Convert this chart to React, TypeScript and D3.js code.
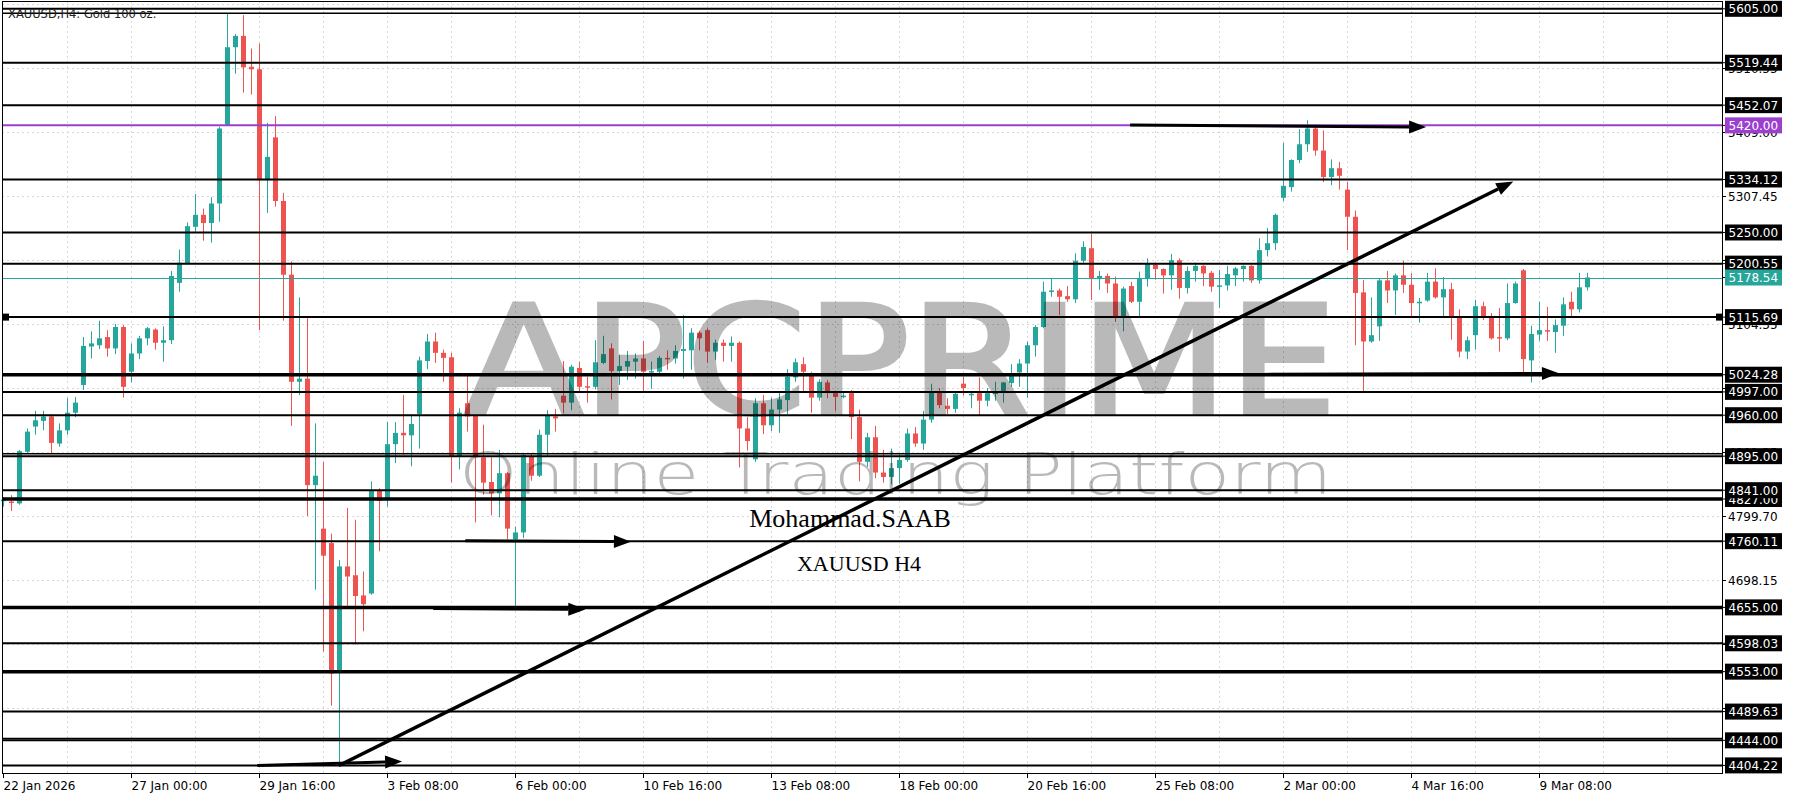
import React, { useEffect, useRef } from 'react';
import * as d3 from 'd3';

// ---------------- DATA ----------------
const opens = [
  4824, 4823, 4820, 4902, 4942, 4951, 4958, 4915, 4936, 4964,
  5008, 5069, 5071, 5084, 5066, 5100, 5029, 5058, 5082, 5096,
  5075, 5079, 5170, 5201, 5259, 5278, 5265, 5296, 5420, 5544,
  5562, 5513, 5509, 5333, 5401, 5300, 5183, 5013, 5018, 4849,
  4780, 4757, 4552, 4720, 4706, 4674, 4677, 4840, 4828, 4914,
  4932, 4928, 4962, 5046, 5077, 5059, 5052, 4895, 4979, 4959,
  4893, 4854, 4836, 4868, 4763, 4774, 4895, 4864, 4929, 4958,
  4991, 4980, 5035, 5006, 5005, 5043, 5066, 5030, 5037, 5045,
  5050, 5028, 5029, 5051, 5050, 5062, 5063, 5091, 5095, 5061,
  5075, 5070, 5075, 4939, 4890, 4979, 4944, 4969, 4984, 5020,
  5041, 5024, 4988, 5012, 4995, 4990, 4995, 4957, 4886, 4925,
  4869, 4862, 4876, 4889, 4931, 4915, 4953, 4998, 4975, 4970,
  5010, 4992, 4995, 4983, 4994, 4996, 5011, 5028, 5042, 5071,
  5100, 5156, 5158, 5149, 5144, 5205, 5225, 5176, 5181, 5169,
  5116, 5165, 5140, 5177, 5199, 5192, 5182, 5206, 5162, 5189,
  5197, 5186, 5164, 5166, 5182, 5192, 5197, 5174, 5222, 5233,
  5305, 5322, 5365, 5390, 5415, 5380, 5338, 5352, 5318, 5275,
  5155, 5077, 5101, 5174, 5158, 5182, 5167, 5138, 5142, 5172,
  5147, 5160, 5116, 5061, 5087, 5133, 5115, 5084, 5082, 5138,
  5190, 5047, 5088, 5095, 5092, 5102, 5140, 5128, 5163,
];
const highs = [
  4830, 4833, 4905, 4939, 4967, 4967, 4962, 4947, 4987, 4989,
  5084, 5093, 5110, 5095, 5105, 5103, 5074, 5086, 5100, 5098,
  5101, 5189, 5223, 5266, 5311, 5288, 5306, 5418, 5597, 5565,
  5595, 5542, 5550, 5424, 5435, 5313, 5204, 5147, 5114, 4947,
  4886, 4772, 4730, 4813, 4794, 4712, 4855, 4844, 4949, 4949,
  4992, 4962, 5053, 5089, 5091, 5064, 5059, 4971, 5024, 4960,
  4945, 4893, 4905, 4870, 4783, 4900, 4900, 4937, 4968, 4970,
  5046, 5040, 5045, 5021, 5079, 5086, 5074, 5056, 5062, 5058,
  5078, 5045, 5054, 5063, 5071, 5119, 5098, 5094, 5098, 5080,
  5080, 5085, 5077, 4957, 4987, 4992, 4988, 4995, 5033, 5050,
  5052, 5029, 5017, 5016, 4999, 4995, 5000, 4969, 4932, 4943,
  4905, 4907, 4898, 4939, 4941, 4967, 5010, 5003, 4987, 4996,
  5021, 4997, 5020, 5003, 5013, 5013, 5041, 5049, 5077, 5103,
  5172, 5177, 5161, 5165, 5217, 5236, 5248, 5189, 5185, 5180,
  5164, 5172, 5188, 5209, 5201, 5193, 5216, 5209, 5196, 5202,
  5198, 5189, 5191, 5197, 5195, 5198, 5198, 5241, 5257, 5280,
  5392, 5366, 5414, 5428, 5422, 5412, 5366, 5362, 5330, 5285,
  5175, 5147, 5177, 5189, 5185, 5205, 5185, 5146, 5186, 5193,
  5179, 5170, 5128, 5085, 5143, 5140, 5122, 5130, 5169, 5172,
  5192, 5102, 5140, 5132, 5112, 5147, 5156, 5186, 5186,
];
const lows = [
  4815, 4808, 4818, 4900, 4929, 4936, 4899, 4910, 4929, 4957,
  5000, 5050, 5065, 5053, 5057, 4988, 5012, 5049, 5071, 5064,
  5045, 5073, 5156, 5200, 5251, 5237, 5234, 5267, 5419, 5502,
  5472, 5469, 5095, 5281, 5291, 5110, 4943, 4992, 4800, 4683,
  4585, 4499, 4404, 4657, 4596, 4617, 4675, 4744, 4815, 4884,
  4897, 4879, 4907, 5033, 5043, 5013, 4853, 4874, 4934, 4790,
  4834, 4801, 4798, 4763, 4653, 4765, 4856, 4862, 4894, 4934,
  4963, 4968, 4997, 4980, 5001, 5041, 4985, 5008, 5016, 5018,
  4997, 5002, 5026, 5032, 5042, 5018, 5032, 5063, 5043, 5048,
  5045, 5045, 4877, 4904, 4886, 4930, 4935, 4932, 4962, 5013,
  4996, 4964, 4983, 4987, 4967, 4987, 4922, 4855, 4878, 4860,
  4853, 4850, 4851, 4886, 4910, 4905, 4948, 4971, 4962, 4964,
  4991, 4971, 4960, 4974, 4983, 4980, 5005, 5005, 4988, 5053,
  5098, 5148, 5119, 5140, 5138, 5202, 5143, 5159, 5154, 5108,
  5093, 5138, 5117, 5164, 5175, 5153, 5159, 5145, 5153, 5172,
  5165, 5156, 5130, 5158, 5165, 5172, 5170, 5169, 5212, 5222,
  5300, 5315, 5360, 5378, 5372, 5330, 5325, 5318, 5222, 5071,
  4997, 5075, 5078, 5138, 5119, 5154, 5117, 5107, 5140, 5145,
  5117, 5080, 5052, 5049, 5064, 5111, 5080, 5061, 5079, 5137,
  5027, 5012, 5078, 5078, 5059, 5086, 5115, 5123, 5158,
];
const closes = [
  4826, 4821, 4903, 4934, 4952, 4958, 4916, 4936, 4964, 4980,
  5070, 5074, 5082, 5066, 5100, 5005, 5058, 5082, 5098, 5075,
  5079, 5181, 5202, 5260, 5278, 5265, 5296, 5415, 5544, 5562,
  5512, 5509, 5333, 5370, 5300, 5183, 5013, 5018, 4849, 4864,
  4737, 4550, 4720, 4704, 4673, 4660, 4840, 4824, 4914, 4932,
  4928, 4946, 5047, 5077, 5059, 5051, 4895, 4964, 4958, 4893,
  4853, 4836, 4868, 4780, 4774, 4897, 4864, 4929, 4959, 4955,
  4980, 5037, 5005, 5005, 5044, 5057, 5030, 5038, 5046, 5050,
  5029, 5030, 5051, 5050, 5062, 5065, 5091, 5082, 5061, 5075,
  5070, 5075, 4939, 4919, 4979, 4944, 4969, 4985, 5021, 5044,
  5029, 4988, 5013, 4996, 4989, 4991, 4957, 4886, 4925, 4869,
  4862, 4876, 4889, 4931, 4915, 4953, 4998, 4976, 4970, 4994,
  5003, 4994, 4983, 4995, 4996, 5012, 5027, 5042, 5071, 5100,
  5156, 5158, 5148, 5144, 5205, 5227, 5176, 5181, 5169, 5116,
  5161, 5140, 5177, 5200, 5192, 5182, 5206, 5162, 5189, 5197,
  5185, 5164, 5166, 5184, 5193, 5197, 5174, 5222, 5233, 5278,
  5324, 5365, 5390, 5415, 5380, 5338, 5352, 5340, 5275, 5154,
  5077, 5087, 5174, 5158, 5182, 5167, 5138, 5140, 5172, 5147,
  5160, 5116, 5061, 5079, 5133, 5115, 5082, 5083, 5138, 5169,
  5049, 5089, 5095, 5094, 5103, 5136, 5128, 5163, 5178.54,
];

const timeLabels = [
  '22 Jan 2026', '27 Jan 00:00', '29 Jan 16:00', '3 Feb 08:00', '6 Feb 00:00',
  '10 Feb 16:00', '13 Feb 08:00', '18 Feb 00:00', '20 Feb 16:00', '25 Feb 08:00',
  '2 Mar 00:00', '4 Mar 16:00', '9 Mar 08:00',
];
const barsPerLabel = 16;

// horizontal drawn levels (black lines)
const levelPrices = [
  5605, 5598, 5519.44, 5452.07, 5334.12, 5250, 5200.55, 5115.69, 5024.28,
  4997, 4960, 4899, 4895, 4841, 4827, 4760.11, 4655, 4598.03, 4553,
  4489.63, 4447, 4444, 4404.22,
];
const thickLevels = [5024.28, 4827, 4655, 4553];
const thinLevels = [5598, 4899, 4447];
const purpleLevel = 5420;
const currentPrice = 5178.54;
const markedLevel = 5115.69;

// boxed price labels on axis (ascending, so higher ones are painted on top)
const boxedLabels = [
  4404.22, 4444.0, 4489.63, 4553.0, 4598.03, 4655.0, 4760.11, 4827.0, 4841.0,
  4895.0, 4960.0, 4997.0, 5024.28, 5115.69, 5200.55, 5250.0, 5334.12,
  5452.07, 5519.44, 5605.0,
];
// price-grid labels
const gridPrices = [
  5510.55, 5409.0, 5307.45, 5205.9, 5104.35, 5002.8, 4901.25,
  4799.7, 4698.15, 4596.6, 4495.05,
];
const gridLinePrices = [5612.1, ...gridPrices];

// arrows: [startBar, startPrice, endBar, endPrice]
const arrows: [number, number, number, number][] = [
  [140.9, 5420.5, 177.9, 5417.3],
  [42.0, 4404.0, 188.8, 5331.0],
  [31.8, 4404.0, 49.9, 4410.5],
  [57.8, 4760.9, 78.5, 4759.3],
  [53.8, 4653.3, 72.8, 4651.7],
  [157.5, 5024.8, 194.5, 5026.4],
];

const COL_UP = '#26a69a';
const COL_DN = '#ef5350';
const FONT = 'DejaVu Sans, Verdana, sans-serif';

export default function App() {
  const ref = useRef<SVGSVGElement>(null);

  useEffect(() => {
    const svg = d3.select(ref.current);
    svg.selectAll('*').remove();

    const left = 2, right = 1722, top = 1, bottom = 773;
    const x = d3.scaleLinear().domain([0, 200]).range([2.9, 2.9 + 8 * 200]);
    const y = d3.scaleLinear().domain([4404.22, 5605]).range([765.4, 8.8]);
    const px = (i: number) => Math.round(x(i)) + 0.5;

    svg.append('rect').attr('width', 1800).attr('height', 800).attr('fill', '#fff');

    const plot = svg.append('g');

    // vertical dotted grid
    const vg = d3.range(8, 215, 8).filter((i) => x(i) < right - 2);
    plot.selectAll('line.vg').data(vg).enter().append('line')
      .attr('x1', (d) => px(d)).attr('x2', (d) => px(d))
      .attr('y1', top).attr('y2', bottom)
      .attr('stroke', '#d8d8d8').attr('stroke-width', 1).attr('stroke-dasharray', '2,3');
    // horizontal dotted grid
    plot.selectAll('line.hg').data(gridLinePrices).enter().append('line')
      .attr('x1', left).attr('x2', right)
      .attr('y1', (d) => Math.round(y(d)) + 0.5).attr('y2', (d) => Math.round(y(d)) + 0.5)
      .attr('stroke', '#d8d8d8').attr('stroke-width', 1).attr('stroke-dasharray', '2,3');

    // candles
    const idx = d3.range(opens.length);
    const cg = plot.append('g');
    cg.selectAll('line.w').data(idx).enter().append('line')
      .attr('x1', (i) => px(i)).attr('x2', (i) => px(i))
      .attr('y1', (i) => y(highs[i])).attr('y2', (i) => y(lows[i]))
      .attr('stroke', (i) => (closes[i] >= opens[i] ? COL_UP : COL_DN))
      .attr('stroke-width', 1);
    cg.selectAll('rect.b').data(idx).enter().append('rect')
      .attr('x', (i) => px(i) - 2.5)
      .attr('width', 5)
      .attr('y', (i) => y(Math.max(opens[i], closes[i])))
      .attr('height', (i) => Math.max(1.5, Math.abs(y(opens[i]) - y(closes[i]))))
      .attr('fill', (i) => (closes[i] >= opens[i] ? COL_UP : COL_DN));

    // level lines
    plot.selectAll('line.lv').data(levelPrices).enter().append('line')
      .attr('x1', left).attr('x2', right)
      .attr('y1', (d) => y(d)).attr('y2', (d) => y(d))
      .attr('stroke', '#000')
      .attr('stroke-width', (d) => (thickLevels.includes(d) ? 3.5 : thinLevels.includes(d) ? 1.5 : 2));
    plot.append('line').attr('x1', left).attr('x2', right)
      .attr('y1', y(purpleLevel)).attr('y2', y(purpleLevel))
      .attr('stroke', '#9b3fcf').attr('stroke-width', 2);
    plot.append('line').attr('x1', left).attr('x2', right)
      .attr('y1', Math.round(y(currentPrice)) + 0.5).attr('y2', Math.round(y(currentPrice)) + 0.5)
      .attr('stroke', COL_UP).attr('stroke-width', 1);
    plot.append('rect').attr('x', left).attr('y', y(markedLevel) - 3.5).attr('width', 7).attr('height', 7).attr('fill', '#000');
    plot.append('rect').attr('x', right - 6).attr('y', y(markedLevel) - 3.5).attr('width', 6).attr('height', 7).attr('fill', '#000');

    // watermark
    const wm = svg.append('g').attr('opacity', 0.27).attr('fill', '#000');
    wm.append('text').attr('x', 465).attr('y', 413)
      .attr('font-family', FONT).attr('font-weight', 'normal').attr('font-size', 150)
      .attr('stroke', '#000').attr('stroke-width', 4).attr('stroke-linejoin', 'miter')
      .attr('textLength', 872).attr('lengthAdjust', 'spacingAndGlyphs')
      .text('APCPRIME');
    wm.append('text').attr('x', 459).attr('y', 494)
      .attr('font-family', FONT).attr('font-weight', 200).attr('font-size', 57)
      .attr('textLength', 873).attr('lengthAdjust', 'spacingAndGlyphs')
      .text('Online Trading Platform');

    // arrows
    const ag = svg.append('g');
    arrows.forEach(([b0, p0, b1, p1], k) => {
      const x0 = x(b0), y0 = y(p0), x1 = x(b1), y1 = y(p1);
      const ang = Math.atan2(y1 - y0, x1 - x0);
      const len = 17, hw = 6.5;
      const bx = x1 - len * Math.cos(ang), by = y1 - len * Math.sin(ang);
      ag.append('line').attr('x1', x0).attr('y1', y0).attr('x2', bx).attr('y2', by)
        .attr('stroke', '#000').attr('stroke-width', k === 1 ? 3.5 : 3);
      const pts: [number, number][] = [
        [x1, y1],
        [bx + hw * Math.sin(ang), by - hw * Math.cos(ang)],
        [bx - hw * Math.sin(ang), by + hw * Math.cos(ang)],
      ];
      ag.append('polygon').attr('points', pts.map((p) => p.join(',')).join(' ')).attr('fill', '#000');
    });

    // author texts
    svg.append('text').attr('x', 850).attr('y', 527).attr('text-anchor', 'middle')
      .attr('font-family', 'Liberation Serif, Times New Roman, serif').attr('font-size', 26)
      .attr('fill', '#000').text('Mohammad.SAAB');
    svg.append('text').attr('x', 859).attr('y', 571).attr('text-anchor', 'middle')
      .attr('font-family', 'Liberation Serif, Times New Roman, serif').attr('font-size', 22)
      .attr('fill', '#000').text('XAUUSD H4');

    // title
    svg.append('text').attr('x', 8).attr('y', 18)
      .attr('font-family', FONT).attr('font-size', 11.5).attr('fill', '#222')
      .text('XAUUSD,H4:  Gold 100 oz.');

    // frame
    svg.append('rect').attr('x', left + 0.5).attr('y', top + 0.5)
      .attr('width', right - left).attr('height', bottom - top)
      .attr('fill', 'none').attr('stroke', '#000').attr('stroke-width', 1);

    // time axis
    const ta = svg.append('g');
    timeLabels.forEach((t, k) => {
      const xx = px(k * barsPerLabel);
      ta.append('line').attr('x1', xx).attr('x2', xx).attr('y1', bottom).attr('y2', bottom + 5)
        .attr('stroke', '#000');
      ta.append('text').attr('x', xx).attr('y', 790)
        .attr('font-family', FONT).attr('font-size', 12).attr('fill', '#000').text(t);
    });

    // price axis grid labels
    const pa = svg.append('g');
    gridPrices.forEach((p) => {
      const yy = Math.round(y(p)) + 0.5;
      pa.append('line').attr('x1', right).attr('x2', right + 4).attr('y1', yy).attr('y2', yy).attr('stroke', '#000');
      pa.append('text').attr('x', 1728).attr('y', yy + 4.5)
        .attr('font-family', FONT).attr('font-size', 12).attr('fill', '#000').text(p.toFixed(2));
    });
    const box = (p: number, fill: string) => {
      const yy = y(p);
      pa.append('rect').attr('x', 1725).attr('y', yy - 8).attr('width', 57).attr('height', 16).attr('fill', fill);
      pa.append('line').attr('x1', right).attr('x2', 1725).attr('y1', yy).attr('y2', yy).attr('stroke', '#000');
      pa.append('text').attr('x', 1728.5).attr('y', yy + 4.5)
        .attr('font-family', FONT).attr('font-size', 12).attr('fill', '#fff').text(p.toFixed(2));
    };
    boxedLabels.forEach((p) => box(p, '#000'));
    box(purpleLevel, '#9b3fcf');
    box(currentPrice, COL_UP);
  }, []);

  return (
    <div style={{ position: 'absolute', left: 0, top: 0 }}>
      <svg ref={ref} width={1800} height={800} style={{ display: 'block' }} />
    </div>
  );
}
